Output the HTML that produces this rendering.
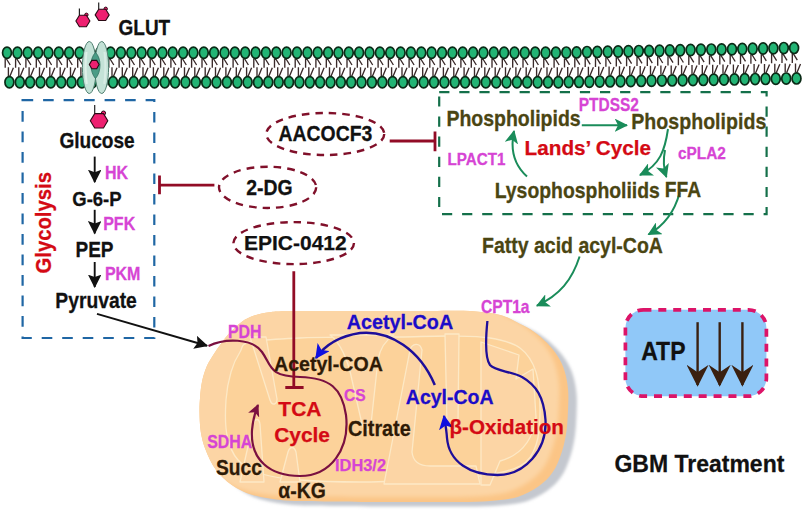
<!DOCTYPE html>
<html><head><meta charset="utf-8"><style>
html,body{margin:0;padding:0;background:#fff;}
body{width:804px;height:517px;overflow:hidden;font-family:"Liberation Sans",sans-serif;}
svg{display:block;}
</style></head><body>
<svg width="804" height="517" viewBox="0 0 804 517">
<defs>
<marker id="ab" viewBox="0 0 12 12" refX="11" refY="6" markerWidth="13.5" markerHeight="13.5" markerUnits="userSpaceOnUse" orient="auto"><path d="M0 0L12 6L0 12L2.2 6Z" fill="#111"/></marker>
<marker id="ag" viewBox="0 0 12 12" refX="11" refY="6" markerWidth="13.5" markerHeight="13.5" markerUnits="userSpaceOnUse" orient="auto"><path d="M0 0L12 6L0 12L3 6Z" fill="#1a8c5a"/></marker>
<marker id="abl" viewBox="0 0 12 12" refX="11" refY="6" markerWidth="14.5" markerHeight="14.5" markerUnits="userSpaceOnUse" orient="auto"><path d="M0 0L12 6L0 12L3 6Z" fill="#1010e0"/></marker>
<marker id="am" viewBox="0 0 12 12" refX="11" refY="6" markerWidth="12" markerHeight="12" markerUnits="userSpaceOnUse" orient="auto"><path d="M0 0L12 6L0 12L3 6Z" fill="#7a1040"/></marker>
<marker id="abr" viewBox="0 0 12 12" refX="11" refY="6" markerWidth="22" markerHeight="22" markerUnits="userSpaceOnUse" orient="auto"><path d="M0 0L12 6L0 12L4 6Z" fill="#3a2010"/></marker>
<filter id="sh" x="-10%" y="-10%" width="120%" height="130%"><feGaussianBlur stdDeviation="1.6"/></filter>
<filter id="bl" x="-10%" y="-10%" width="120%" height="130%"><feGaussianBlur stdDeviation="2"/></filter>
</defs>
<path d="M5.2 58.5V67.7M6.2 58.5L10.2 65.0M15.6 58.5V67.7M16.6 58.5L20.6 65.0M25.9 58.5V67.7M26.9 58.5L30.9 65.0M36.3 58.5V67.7M37.3 58.5L41.3 65.0M46.6 58.5V67.7M47.6 58.5L51.6 65.0M57.0 58.5V67.7M58.0 58.5L62.0 65.0M67.3 58.5V67.7M68.3 58.5L72.3 65.0M77.7 58.5V67.7M78.7 58.5L82.7 65.0M88.1 58.5V67.7M89.1 58.5L93.1 65.0M98.4 58.5V67.7M99.4 58.5L103.4 65.0M108.8 58.5V67.7M109.8 58.5L113.8 65.0M119.1 58.5V67.7M120.1 58.5L124.1 65.0M129.5 58.5V67.7M130.5 58.5L134.5 65.0M139.8 58.5V67.7M140.8 58.5L144.8 65.0M150.2 58.5V67.7M151.2 58.5L155.2 65.0M160.6 58.5V67.7M161.6 58.5L165.6 65.0M170.9 58.5V67.7M171.9 58.5L175.9 65.0M181.3 58.5V67.7M182.3 58.5L186.3 65.0M191.6 58.5V67.7M192.6 58.5L196.6 65.0M202.0 58.5V67.7M203.0 58.5L207.0 65.0M212.3 58.5V67.7M213.3 58.5L217.3 65.0M222.7 58.5V67.7M223.7 58.5L227.7 65.0M233.1 58.5V67.7M234.1 58.5L238.1 65.0M243.4 58.5V67.7M244.4 58.5L248.4 65.0M253.8 58.5V67.7M254.8 58.5L258.8 65.0M264.1 58.5V67.7M265.1 58.5L269.1 65.0M274.5 58.5V67.7M275.5 58.5L279.5 65.0M284.8 58.5V67.7M285.8 58.5L289.8 65.0M295.2 58.5V67.7M296.2 58.5L300.2 65.0M305.6 58.5V67.7M306.6 58.5L310.6 65.0M315.9 58.5V67.7M316.9 58.5L320.9 65.0M326.3 58.5V67.7M327.3 58.5L331.3 65.0M336.6 58.5V67.7M337.6 58.5L341.6 65.0M347.0 58.5V67.7M348.0 58.5L352.0 65.0M357.3 58.5V67.7M358.3 58.5L362.3 65.0M367.7 58.5V67.7M368.7 58.5L372.7 65.0M378.1 58.5V67.7M379.1 58.5L383.1 65.0M388.4 58.5V67.7M389.4 58.5L393.4 65.0M398.8 58.5V67.7M399.8 58.5L403.8 65.0M409.1 58.5V67.7M410.1 58.5L414.1 65.0M419.5 58.5V67.7M420.5 58.5L424.5 65.0M429.8 58.5V67.7M430.8 58.5L434.8 65.0M440.2 58.5V67.7M441.2 58.5L445.2 65.0M450.6 58.5V67.7M451.6 58.5L455.6 65.0M460.9 58.5V67.7M461.9 58.5L465.9 65.0M471.3 58.5V67.7M472.3 58.5L476.3 65.0M481.6 58.5V67.7M482.6 58.5L486.6 65.0M492.0 58.5V67.7M493.0 58.5L497.0 65.0M502.3 58.5V67.7M503.3 58.5L507.3 65.0M512.7 58.5V67.7M513.7 58.5L517.7 65.0M523.0 58.5V67.7M524.0 58.5L528.0 65.0M533.4 58.5V67.7M534.4 58.5L538.4 65.0M543.8 58.5V67.7M544.8 58.5L548.8 65.0M554.1 58.5V67.7M555.1 58.5L559.1 65.0M564.5 58.4V67.6M565.5 58.4L569.5 64.9M574.8 58.2V67.4M575.8 58.2L579.8 64.7M585.2 57.9V67.1M586.2 57.9L590.2 64.4M595.5 57.7V66.9M596.5 57.7L600.5 64.2M605.9 57.5V66.7M606.9 57.5L610.9 64.0M616.3 57.3V66.5M617.3 57.3L621.3 63.8M626.6 57.1V66.3M627.6 57.1L631.6 63.6M637.0 56.9V66.1M638.0 56.9L642.0 63.4M647.3 56.7V65.9M648.3 56.7L652.3 63.2M657.7 56.5V65.7M658.7 56.5L662.7 63.0M668.0 56.2V65.4M669.0 56.2L673.0 62.7M678.4 56.0V65.2M679.4 56.0L683.4 62.5M688.8 55.8V65.0M689.8 55.8L693.8 62.3M699.1 55.6V64.8M700.1 55.6L704.1 62.1M709.5 55.4V64.6M710.5 55.4L714.5 61.9M719.8 55.2V64.4M720.8 55.2L724.8 61.7M730.2 55.0V64.2M731.2 55.0L735.2 61.5M740.5 54.8V64.0M741.5 54.8L745.5 61.3M750.9 54.5V63.7M751.9 54.5L755.9 61.0M761.3 54.3V63.5M762.3 54.3L766.3 60.8M771.6 54.1V63.3M772.6 54.1L776.6 60.6M782.0 53.9V63.1M783.0 53.9L787.0 60.4M792.3 53.7V62.9M793.3 53.7L797.3 60.2M8.4 76.2V67.2M9.9 76.2L13.4 67.7M18.8 76.2V67.2M20.3 76.2L23.8 67.7M29.1 76.2V67.2M30.6 76.2L34.1 67.7M39.5 76.2V67.2M41.0 76.2L44.5 67.7M49.8 76.2V67.2M51.3 76.2L54.8 67.7M60.2 76.2V67.2M61.7 76.2L65.2 67.7M70.5 76.2V67.2M72.0 76.2L75.5 67.7M80.9 76.2V67.2M82.4 76.2L85.9 67.7M91.3 76.2V67.2M92.8 76.2L96.3 67.7M101.6 76.2V67.2M103.1 76.2L106.6 67.7M112.0 76.2V67.2M113.5 76.2L117.0 67.7M122.3 76.2V67.2M123.8 76.2L127.3 67.7M132.7 76.2V67.2M134.2 76.2L137.7 67.7M143.0 76.2V67.2M144.5 76.2L148.0 67.7M153.4 76.2V67.2M154.9 76.2L158.4 67.7M163.8 76.2V67.2M165.3 76.2L168.8 67.7M174.1 76.2V67.2M175.6 76.2L179.1 67.7M184.5 76.2V67.2M186.0 76.2L189.5 67.7M194.8 76.2V67.2M196.3 76.2L199.8 67.7M205.2 76.2V67.2M206.7 76.2L210.2 67.7M215.5 76.2V67.2M217.0 76.2L220.5 67.7M225.9 76.2V67.2M227.4 76.2L230.9 67.7M236.3 76.2V67.2M237.8 76.2L241.3 67.7M246.6 76.2V67.2M248.1 76.2L251.6 67.7M257.0 76.2V67.2M258.5 76.2L262.0 67.7M267.3 76.2V67.2M268.8 76.2L272.3 67.7M277.7 76.2V67.2M279.2 76.2L282.7 67.7M288.0 76.2V67.2M289.5 76.2L293.0 67.7M298.4 76.2V67.2M299.9 76.2L303.4 67.7M308.8 76.2V67.2M310.3 76.2L313.8 67.7M319.1 76.2V67.2M320.6 76.2L324.1 67.7M329.5 76.2V67.2M331.0 76.2L334.5 67.7M339.8 76.2V67.2M341.3 76.2L344.8 67.7M350.2 76.2V67.2M351.7 76.2L355.2 67.7M360.5 76.2V67.2M362.0 76.2L365.5 67.7M370.9 76.2V67.2M372.4 76.2L375.9 67.7M381.3 76.2V67.2M382.8 76.2L386.3 67.7M391.6 76.2V67.2M393.1 76.2L396.6 67.7M402.0 76.2V67.2M403.5 76.2L407.0 67.7M412.3 76.2V67.2M413.8 76.2L417.3 67.7M422.7 76.2V67.2M424.2 76.2L427.7 67.7M433.0 76.2V67.2M434.5 76.2L438.0 67.7M443.4 76.2V67.2M444.9 76.2L448.4 67.7M453.8 76.2V67.2M455.3 76.2L458.8 67.7M464.1 76.2V67.2M465.6 76.2L469.1 67.7M474.5 76.2V67.2M476.0 76.2L479.5 67.7M484.8 76.2V67.2M486.3 76.2L489.8 67.7M495.2 76.2V67.2M496.7 76.2L500.2 67.7M505.5 76.2V67.2M507.0 76.2L510.5 67.7M515.9 76.2V67.2M517.4 76.2L520.9 67.7M526.2 76.2V67.2M527.7 76.2L531.2 67.7M536.6 76.2V67.2M538.1 76.2L541.6 67.7M547.0 76.2V67.2M548.5 76.2L552.0 67.7M557.3 76.2V67.2M558.8 76.2L562.3 67.7M567.7 76.1V67.1M569.2 76.1L572.7 67.6M578.0 75.9V66.9M579.5 75.9L583.0 67.4M588.4 75.7V66.7M589.9 75.7L593.4 67.2M598.7 75.6V66.6M600.2 75.6L603.7 67.1M609.1 75.4V66.4M610.6 75.4L614.1 66.9M619.5 75.2V66.2M621.0 75.2L624.5 66.7M629.8 75.1V66.1M631.3 75.1L634.8 66.6M640.2 74.9V65.9M641.7 74.9L645.2 66.4M650.5 74.7V65.7M652.0 74.7L655.5 66.2M660.9 74.6V65.6M662.4 74.6L665.9 66.1M671.2 74.4V65.4M672.7 74.4L676.2 65.9M681.6 74.2V65.2M683.1 74.2L686.6 65.7M692.0 74.1V65.1M693.5 74.1L697.0 65.6M702.3 73.9V64.9M703.8 73.9L707.3 65.4M712.7 73.7V64.7M714.2 73.7L717.7 65.2M723.0 73.6V64.6M724.5 73.6L728.0 65.1M733.4 73.4V64.4M734.9 73.4L738.4 64.9M743.7 73.2V64.2M745.2 73.2L748.7 64.7M754.1 73.1V64.1M755.6 73.1L759.1 64.6M764.5 72.9V63.9M766.0 72.9L769.5 64.4M774.8 72.7V63.7M776.3 72.7L779.8 64.2M785.2 72.6V63.6M786.7 72.6L790.2 64.1M795.5 72.4V63.4M797.0 72.4L800.5 63.9" stroke="#3a2a2a" stroke-width="1.35" fill="none"/><g fill="#22b474" stroke="#0a2a16" stroke-width="1.7"><ellipse cx="7.0" cy="52.7" rx="4.45" ry="5.6"/><ellipse cx="17.4" cy="52.7" rx="4.45" ry="5.6"/><ellipse cx="27.7" cy="52.7" rx="4.45" ry="5.6"/><ellipse cx="38.1" cy="52.7" rx="4.45" ry="5.6"/><ellipse cx="48.4" cy="52.7" rx="4.45" ry="5.6"/><ellipse cx="58.8" cy="52.7" rx="4.45" ry="5.6"/><ellipse cx="69.1" cy="52.7" rx="4.45" ry="5.6"/><ellipse cx="79.5" cy="52.7" rx="4.45" ry="5.6"/><ellipse cx="89.9" cy="52.7" rx="4.45" ry="5.6"/><ellipse cx="100.2" cy="52.7" rx="4.45" ry="5.6"/><ellipse cx="110.6" cy="52.7" rx="4.45" ry="5.6"/><ellipse cx="120.9" cy="52.7" rx="4.45" ry="5.6"/><ellipse cx="131.3" cy="52.7" rx="4.45" ry="5.6"/><ellipse cx="141.6" cy="52.7" rx="4.45" ry="5.6"/><ellipse cx="152.0" cy="52.7" rx="4.45" ry="5.6"/><ellipse cx="162.4" cy="52.7" rx="4.45" ry="5.6"/><ellipse cx="172.7" cy="52.7" rx="4.45" ry="5.6"/><ellipse cx="183.1" cy="52.7" rx="4.45" ry="5.6"/><ellipse cx="193.4" cy="52.7" rx="4.45" ry="5.6"/><ellipse cx="203.8" cy="52.7" rx="4.45" ry="5.6"/><ellipse cx="214.1" cy="52.7" rx="4.45" ry="5.6"/><ellipse cx="224.5" cy="52.7" rx="4.45" ry="5.6"/><ellipse cx="234.9" cy="52.7" rx="4.45" ry="5.6"/><ellipse cx="245.2" cy="52.7" rx="4.45" ry="5.6"/><ellipse cx="255.6" cy="52.7" rx="4.45" ry="5.6"/><ellipse cx="265.9" cy="52.7" rx="4.45" ry="5.6"/><ellipse cx="276.3" cy="52.7" rx="4.45" ry="5.6"/><ellipse cx="286.6" cy="52.7" rx="4.45" ry="5.6"/><ellipse cx="297.0" cy="52.7" rx="4.45" ry="5.6"/><ellipse cx="307.4" cy="52.7" rx="4.45" ry="5.6"/><ellipse cx="317.7" cy="52.7" rx="4.45" ry="5.6"/><ellipse cx="328.1" cy="52.7" rx="4.45" ry="5.6"/><ellipse cx="338.4" cy="52.7" rx="4.45" ry="5.6"/><ellipse cx="348.8" cy="52.7" rx="4.45" ry="5.6"/><ellipse cx="359.1" cy="52.7" rx="4.45" ry="5.6"/><ellipse cx="369.5" cy="52.7" rx="4.45" ry="5.6"/><ellipse cx="379.9" cy="52.7" rx="4.45" ry="5.6"/><ellipse cx="390.2" cy="52.7" rx="4.45" ry="5.6"/><ellipse cx="400.6" cy="52.7" rx="4.45" ry="5.6"/><ellipse cx="410.9" cy="52.7" rx="4.45" ry="5.6"/><ellipse cx="421.3" cy="52.7" rx="4.45" ry="5.6"/><ellipse cx="431.6" cy="52.7" rx="4.45" ry="5.6"/><ellipse cx="442.0" cy="52.7" rx="4.45" ry="5.6"/><ellipse cx="452.4" cy="52.7" rx="4.45" ry="5.6"/><ellipse cx="462.7" cy="52.7" rx="4.45" ry="5.6"/><ellipse cx="473.1" cy="52.7" rx="4.45" ry="5.6"/><ellipse cx="483.4" cy="52.7" rx="4.45" ry="5.6"/><ellipse cx="493.8" cy="52.7" rx="4.45" ry="5.6"/><ellipse cx="504.1" cy="52.7" rx="4.45" ry="5.6"/><ellipse cx="514.5" cy="52.7" rx="4.45" ry="5.6"/><ellipse cx="524.8" cy="52.7" rx="4.45" ry="5.6"/><ellipse cx="535.2" cy="52.7" rx="4.45" ry="5.6"/><ellipse cx="545.6" cy="52.7" rx="4.45" ry="5.6"/><ellipse cx="555.9" cy="52.7" rx="4.45" ry="5.6"/><ellipse cx="566.3" cy="52.6" rx="4.45" ry="5.6"/><ellipse cx="576.6" cy="52.4" rx="4.45" ry="5.6"/><ellipse cx="587.0" cy="52.1" rx="4.45" ry="5.6"/><ellipse cx="597.3" cy="51.9" rx="4.45" ry="5.6"/><ellipse cx="607.7" cy="51.7" rx="4.45" ry="5.6"/><ellipse cx="618.1" cy="51.5" rx="4.45" ry="5.6"/><ellipse cx="628.4" cy="51.3" rx="4.45" ry="5.6"/><ellipse cx="638.8" cy="51.1" rx="4.45" ry="5.6"/><ellipse cx="649.1" cy="50.9" rx="4.45" ry="5.6"/><ellipse cx="659.5" cy="50.7" rx="4.45" ry="5.6"/><ellipse cx="669.8" cy="50.4" rx="4.45" ry="5.6"/><ellipse cx="680.2" cy="50.2" rx="4.45" ry="5.6"/><ellipse cx="690.6" cy="50.0" rx="4.45" ry="5.6"/><ellipse cx="700.9" cy="49.8" rx="4.45" ry="5.6"/><ellipse cx="711.3" cy="49.6" rx="4.45" ry="5.6"/><ellipse cx="721.6" cy="49.4" rx="4.45" ry="5.6"/><ellipse cx="732.0" cy="49.2" rx="4.45" ry="5.6"/><ellipse cx="742.3" cy="49.0" rx="4.45" ry="5.6"/><ellipse cx="752.7" cy="48.7" rx="4.45" ry="5.6"/><ellipse cx="763.1" cy="48.5" rx="4.45" ry="5.6"/><ellipse cx="773.4" cy="48.3" rx="4.45" ry="5.6"/><ellipse cx="783.8" cy="48.1" rx="4.45" ry="5.6"/><ellipse cx="794.1" cy="47.9" rx="4.45" ry="5.6"/><ellipse cx="9.4" cy="82.2" rx="4.45" ry="5.6"/><ellipse cx="19.8" cy="82.2" rx="4.45" ry="5.6"/><ellipse cx="30.1" cy="82.2" rx="4.45" ry="5.6"/><ellipse cx="40.5" cy="82.2" rx="4.45" ry="5.6"/><ellipse cx="50.8" cy="82.2" rx="4.45" ry="5.6"/><ellipse cx="61.2" cy="82.2" rx="4.45" ry="5.6"/><ellipse cx="71.5" cy="82.2" rx="4.45" ry="5.6"/><ellipse cx="81.9" cy="82.2" rx="4.45" ry="5.6"/><ellipse cx="92.3" cy="82.2" rx="4.45" ry="5.6"/><ellipse cx="102.6" cy="82.2" rx="4.45" ry="5.6"/><ellipse cx="113.0" cy="82.2" rx="4.45" ry="5.6"/><ellipse cx="123.3" cy="82.2" rx="4.45" ry="5.6"/><ellipse cx="133.7" cy="82.2" rx="4.45" ry="5.6"/><ellipse cx="144.0" cy="82.2" rx="4.45" ry="5.6"/><ellipse cx="154.4" cy="82.2" rx="4.45" ry="5.6"/><ellipse cx="164.8" cy="82.2" rx="4.45" ry="5.6"/><ellipse cx="175.1" cy="82.2" rx="4.45" ry="5.6"/><ellipse cx="185.5" cy="82.2" rx="4.45" ry="5.6"/><ellipse cx="195.8" cy="82.2" rx="4.45" ry="5.6"/><ellipse cx="206.2" cy="82.2" rx="4.45" ry="5.6"/><ellipse cx="216.5" cy="82.2" rx="4.45" ry="5.6"/><ellipse cx="226.9" cy="82.2" rx="4.45" ry="5.6"/><ellipse cx="237.3" cy="82.2" rx="4.45" ry="5.6"/><ellipse cx="247.6" cy="82.2" rx="4.45" ry="5.6"/><ellipse cx="258.0" cy="82.2" rx="4.45" ry="5.6"/><ellipse cx="268.3" cy="82.2" rx="4.45" ry="5.6"/><ellipse cx="278.7" cy="82.2" rx="4.45" ry="5.6"/><ellipse cx="289.0" cy="82.2" rx="4.45" ry="5.6"/><ellipse cx="299.4" cy="82.2" rx="4.45" ry="5.6"/><ellipse cx="309.8" cy="82.2" rx="4.45" ry="5.6"/><ellipse cx="320.1" cy="82.2" rx="4.45" ry="5.6"/><ellipse cx="330.5" cy="82.2" rx="4.45" ry="5.6"/><ellipse cx="340.8" cy="82.2" rx="4.45" ry="5.6"/><ellipse cx="351.2" cy="82.2" rx="4.45" ry="5.6"/><ellipse cx="361.5" cy="82.2" rx="4.45" ry="5.6"/><ellipse cx="371.9" cy="82.2" rx="4.45" ry="5.6"/><ellipse cx="382.3" cy="82.2" rx="4.45" ry="5.6"/><ellipse cx="392.6" cy="82.2" rx="4.45" ry="5.6"/><ellipse cx="403.0" cy="82.2" rx="4.45" ry="5.6"/><ellipse cx="413.3" cy="82.2" rx="4.45" ry="5.6"/><ellipse cx="423.7" cy="82.2" rx="4.45" ry="5.6"/><ellipse cx="434.0" cy="82.2" rx="4.45" ry="5.6"/><ellipse cx="444.4" cy="82.2" rx="4.45" ry="5.6"/><ellipse cx="454.8" cy="82.2" rx="4.45" ry="5.6"/><ellipse cx="465.1" cy="82.2" rx="4.45" ry="5.6"/><ellipse cx="475.5" cy="82.2" rx="4.45" ry="5.6"/><ellipse cx="485.8" cy="82.2" rx="4.45" ry="5.6"/><ellipse cx="496.2" cy="82.2" rx="4.45" ry="5.6"/><ellipse cx="506.5" cy="82.2" rx="4.45" ry="5.6"/><ellipse cx="516.9" cy="82.2" rx="4.45" ry="5.6"/><ellipse cx="527.2" cy="82.2" rx="4.45" ry="5.6"/><ellipse cx="537.6" cy="82.2" rx="4.45" ry="5.6"/><ellipse cx="548.0" cy="82.2" rx="4.45" ry="5.6"/><ellipse cx="558.3" cy="82.2" rx="4.45" ry="5.6"/><ellipse cx="568.7" cy="82.1" rx="4.45" ry="5.6"/><ellipse cx="579.0" cy="81.9" rx="4.45" ry="5.6"/><ellipse cx="589.4" cy="81.7" rx="4.45" ry="5.6"/><ellipse cx="599.7" cy="81.6" rx="4.45" ry="5.6"/><ellipse cx="610.1" cy="81.4" rx="4.45" ry="5.6"/><ellipse cx="620.5" cy="81.2" rx="4.45" ry="5.6"/><ellipse cx="630.8" cy="81.1" rx="4.45" ry="5.6"/><ellipse cx="641.2" cy="80.9" rx="4.45" ry="5.6"/><ellipse cx="651.5" cy="80.7" rx="4.45" ry="5.6"/><ellipse cx="661.9" cy="80.6" rx="4.45" ry="5.6"/><ellipse cx="672.2" cy="80.4" rx="4.45" ry="5.6"/><ellipse cx="682.6" cy="80.2" rx="4.45" ry="5.6"/><ellipse cx="693.0" cy="80.1" rx="4.45" ry="5.6"/><ellipse cx="703.3" cy="79.9" rx="4.45" ry="5.6"/><ellipse cx="713.7" cy="79.7" rx="4.45" ry="5.6"/><ellipse cx="724.0" cy="79.6" rx="4.45" ry="5.6"/><ellipse cx="734.4" cy="79.4" rx="4.45" ry="5.6"/><ellipse cx="744.7" cy="79.2" rx="4.45" ry="5.6"/><ellipse cx="755.1" cy="79.1" rx="4.45" ry="5.6"/><ellipse cx="765.5" cy="78.9" rx="4.45" ry="5.6"/><ellipse cx="775.8" cy="78.7" rx="4.45" ry="5.6"/><ellipse cx="786.2" cy="78.6" rx="4.45" ry="5.6"/><ellipse cx="796.5" cy="78.4" rx="4.45" ry="5.6"/></g>
<g>
<ellipse cx="89.3" cy="67.5" rx="6.9" ry="26" fill="#c4e2d7" stroke="#4f7f70" stroke-width="1"/>
<ellipse cx="101.7" cy="67.5" rx="6.9" ry="26" fill="#c4e2d7" stroke="#4f7f70" stroke-width="1"/>
<path d="M86.5 52 C85.5 60 85.5 75 86.8 84" stroke="#e6f4ee" stroke-width="2" fill="none" opacity="0.8"/>
<path d="M104.5 52 C105.5 60 105.5 75 104.2 84" stroke="#e6f4ee" stroke-width="2" fill="none" opacity="0.6"/>
<path d="M95.5 52.5 C101.5 58 101.5 72 95.5 78.5 C89.5 72 89.5 58 95.5 52.5Z" fill="#4a9c86" stroke="#2f6e5e" stroke-width="0.8"/>
</g>
<polygon points="89.3,64.6 91.8,60.4 96.7,60.4 99.1,64.6 96.7,68.8 91.8,68.8" fill="#ee2070" stroke="#2a0a14" stroke-width="1.1"/>
<line x1="79.4" y1="15.2" x2="79.4" y2="8.4" stroke="#222" stroke-width="1.2"/><circle cx="86.4" cy="14.8" r="1.7" fill="#ee2070" stroke="#2a0a14" stroke-width="1"/><polygon points="75.9,21.0 79.4,15.2 86.4,15.2 89.9,21.0 86.4,26.8 79.4,26.8" fill="#ee2070" stroke="#2a0a14" stroke-width="1.1"/>
<line x1="98.7" y1="9.3" x2="98.7" y2="2.6" stroke="#222" stroke-width="1.2"/><circle cx="105.7" cy="8.8" r="1.7" fill="#ee2070" stroke="#2a0a14" stroke-width="1"/><polygon points="95.2,14.9 98.7,9.3 105.7,9.3 109.2,14.9 105.7,20.5 98.7,20.5" fill="#ee2070" stroke="#2a0a14" stroke-width="1.1"/>
<line x1="94.7" y1="113.6" x2="94.7" y2="105.1" stroke="#222" stroke-width="1.2"/><circle cx="103.5" cy="113.1" r="2.1" fill="#ee2070" stroke="#2a0a14" stroke-width="1"/><polygon points="90.3,120.8 94.7,113.6 103.5,113.6 107.8,120.8 103.5,128.0 94.7,128.0" fill="#ee2070" stroke="#2a0a14" stroke-width="1.1"/>
<rect x="22.6" y="100.2" width="131.7" height="237.8" fill="none" stroke="#1f66a4" stroke-width="2.2" stroke-dasharray="10.6 9.9"/>
<rect x="439.2" y="92.2" width="327.4" height="122" fill="none" stroke="#14704a" stroke-width="2.2" stroke-dasharray="10.2 9.9"/>
<line x1="94.7" y1="156.6" x2="94.7" y2="182.1" stroke="#111" stroke-width="1.9" marker-end="url(#ab)"/>
<line x1="94.7" y1="209.8" x2="94.7" y2="233.4" stroke="#111" stroke-width="1.9" marker-end="url(#ab)"/>
<line x1="94.7" y1="262" x2="94.7" y2="287" stroke="#111" stroke-width="1.9" marker-end="url(#ab)"/>
<line x1="97" y1="313.9" x2="207" y2="345.8" stroke="#111" stroke-width="2" marker-end="url(#ab)"/>
<path d="M214.4 185.2H159.5M159.5 175.5V194.2" stroke="#920c26" stroke-width="2.8" fill="none"/>
<path d="M389.7 141H435M435 131.6V151.2" stroke="#920c26" stroke-width="2.8" fill="none"/>
<ellipse cx="325.25" cy="134" rx="59" ry="21" fill="none" stroke="#80102a" stroke-width="2.4" stroke-dasharray="7.5 6"/>
<ellipse cx="267.6" cy="187.35" rx="48.6" ry="20.6" fill="none" stroke="#80102a" stroke-width="2.4" stroke-dasharray="7.5 6"/>
<ellipse cx="293.7" cy="243.1" rx="60.3" ry="21" fill="none" stroke="#80102a" stroke-width="2.4" stroke-dasharray="7.5 6"/>
<clipPath id="mc"><path d="M285.0 311.2C295.1 311.0 314.2 311.0 330.0 311.0C345.8 311.0 363.3 311.0 380.0 311.0C396.7 311.0 415.0 311.0 430.0 311.0C445.0 311.0 458.3 310.4 470.0 311.1C481.7 311.8 491.9 313.0 500.2 315.1C508.5 317.2 514.5 321.3 520.0 324.0C525.5 326.7 529.0 328.3 533.5 331.5C538.0 334.7 543.0 338.8 547.1 343.0C551.2 347.2 555.0 351.9 557.9 356.6C560.8 361.3 563.0 365.8 564.7 371.4C566.4 377.0 567.6 383.6 568.1 390.0C568.6 396.4 568.3 403.2 568.0 410.0C567.7 416.8 567.5 423.8 566.5 430.7C565.5 437.6 564.3 444.5 562.0 451.4C559.7 458.3 556.8 466.2 552.8 472.1C548.8 478.0 544.2 482.5 538.3 486.6C532.4 490.7 525.5 494.5 517.6 496.9C509.7 499.3 500.3 500.1 490.7 501.0C481.1 501.9 471.8 501.8 460.0 502.0C448.2 502.2 433.3 502.0 420.0 502.0C406.7 502.0 395.0 502.1 380.0 502.0C365.0 501.9 345.8 501.8 330.0 501.5C314.2 501.2 297.9 501.6 285.0 500.5C272.1 499.4 261.6 497.6 252.7 495.0C243.8 492.4 237.9 489.2 231.8 485.0C225.7 480.8 220.3 475.8 216.0 470.0C211.7 464.2 208.2 456.3 205.7 450.0C203.2 443.7 201.8 438.3 200.8 432.0C199.8 425.7 199.6 417.8 199.5 412.0C199.4 406.2 199.7 402.2 200.1 397.0C200.5 391.8 201.1 385.7 202.2 380.7C203.3 375.7 204.9 370.9 206.5 367.0C208.1 363.1 209.9 360.4 212.0 357.0C214.1 353.6 216.2 350.4 219.0 346.5C221.8 342.6 225.2 337.6 229.0 333.5C232.8 329.4 237.4 324.9 241.6 321.9C245.8 318.9 249.5 317.2 254.2 315.6C258.9 314.0 264.5 312.9 269.6 312.2C274.7 311.5 274.9 311.4 285.0 311.2Z"/></clipPath>
<path d="M285.0 311.2C295.1 311.0 314.2 311.0 330.0 311.0C345.8 311.0 363.3 311.0 380.0 311.0C396.7 311.0 415.0 311.0 430.0 311.0C445.0 311.0 458.3 310.4 470.0 311.1C481.7 311.8 491.9 313.0 500.2 315.1C508.5 317.2 514.5 321.3 520.0 324.0C525.5 326.7 529.0 328.3 533.5 331.5C538.0 334.7 543.0 338.8 547.1 343.0C551.2 347.2 555.0 351.9 557.9 356.6C560.8 361.3 563.0 365.8 564.7 371.4C566.4 377.0 567.6 383.6 568.1 390.0C568.6 396.4 568.3 403.2 568.0 410.0C567.7 416.8 567.5 423.8 566.5 430.7C565.5 437.6 564.3 444.5 562.0 451.4C559.7 458.3 556.8 466.2 552.8 472.1C548.8 478.0 544.2 482.5 538.3 486.6C532.4 490.7 525.5 494.5 517.6 496.9C509.7 499.3 500.3 500.1 490.7 501.0C481.1 501.9 471.8 501.8 460.0 502.0C448.2 502.2 433.3 502.0 420.0 502.0C406.7 502.0 395.0 502.1 380.0 502.0C365.0 501.9 345.8 501.8 330.0 501.5C314.2 501.2 297.9 501.6 285.0 500.5C272.1 499.4 261.6 497.6 252.7 495.0C243.8 492.4 237.9 489.2 231.8 485.0C225.7 480.8 220.3 475.8 216.0 470.0C211.7 464.2 208.2 456.3 205.7 450.0C203.2 443.7 201.8 438.3 200.8 432.0C199.8 425.7 199.6 417.8 199.5 412.0C199.4 406.2 199.7 402.2 200.1 397.0C200.5 391.8 201.1 385.7 202.2 380.7C203.3 375.7 204.9 370.9 206.5 367.0C208.1 363.1 209.9 360.4 212.0 357.0C214.1 353.6 216.2 350.4 219.0 346.5C221.8 342.6 225.2 337.6 229.0 333.5C232.8 329.4 237.4 324.9 241.6 321.9C245.8 318.9 249.5 317.2 254.2 315.6C258.9 314.0 264.5 312.9 269.6 312.2C274.7 311.5 274.9 311.4 285.0 311.2Z" transform="translate(8.5 4.5)" fill="#c4c8cf" filter="url(#sh)"/>
<path d="M285.0 311.2C295.1 311.0 314.2 311.0 330.0 311.0C345.8 311.0 363.3 311.0 380.0 311.0C396.7 311.0 415.0 311.0 430.0 311.0C445.0 311.0 458.3 310.4 470.0 311.1C481.7 311.8 491.9 313.0 500.2 315.1C508.5 317.2 514.5 321.3 520.0 324.0C525.5 326.7 529.0 328.3 533.5 331.5C538.0 334.7 543.0 338.8 547.1 343.0C551.2 347.2 555.0 351.9 557.9 356.6C560.8 361.3 563.0 365.8 564.7 371.4C566.4 377.0 567.6 383.6 568.1 390.0C568.6 396.4 568.3 403.2 568.0 410.0C567.7 416.8 567.5 423.8 566.5 430.7C565.5 437.6 564.3 444.5 562.0 451.4C559.7 458.3 556.8 466.2 552.8 472.1C548.8 478.0 544.2 482.5 538.3 486.6C532.4 490.7 525.5 494.5 517.6 496.9C509.7 499.3 500.3 500.1 490.7 501.0C481.1 501.9 471.8 501.8 460.0 502.0C448.2 502.2 433.3 502.0 420.0 502.0C406.7 502.0 395.0 502.1 380.0 502.0C365.0 501.9 345.8 501.8 330.0 501.5C314.2 501.2 297.9 501.6 285.0 500.5C272.1 499.4 261.6 497.6 252.7 495.0C243.8 492.4 237.9 489.2 231.8 485.0C225.7 480.8 220.3 475.8 216.0 470.0C211.7 464.2 208.2 456.3 205.7 450.0C203.2 443.7 201.8 438.3 200.8 432.0C199.8 425.7 199.6 417.8 199.5 412.0C199.4 406.2 199.7 402.2 200.1 397.0C200.5 391.8 201.1 385.7 202.2 380.7C203.3 375.7 204.9 370.9 206.5 367.0C208.1 363.1 209.9 360.4 212.0 357.0C214.1 353.6 216.2 350.4 219.0 346.5C221.8 342.6 225.2 337.6 229.0 333.5C232.8 329.4 237.4 324.9 241.6 321.9C245.8 318.9 249.5 317.2 254.2 315.6C258.9 314.0 264.5 312.9 269.6 312.2C274.7 311.5 274.9 311.4 285.0 311.2Z" fill="#fbc586"/>
<g clip-path="url(#mc)"><path d="M285.0 311.2C295.1 311.0 314.2 311.0 330.0 311.0C345.8 311.0 363.3 311.0 380.0 311.0C396.7 311.0 415.0 311.0 430.0 311.0C445.0 311.0 458.3 310.4 470.0 311.1C481.7 311.8 491.9 313.0 500.2 315.1C508.5 317.2 514.5 321.3 520.0 324.0C525.5 326.7 529.0 328.3 533.5 331.5C538.0 334.7 543.0 338.8 547.1 343.0C551.2 347.2 555.0 351.9 557.9 356.6C560.8 361.3 563.0 365.8 564.7 371.4C566.4 377.0 567.6 383.6 568.1 390.0C568.6 396.4 568.3 403.2 568.0 410.0C567.7 416.8 567.5 423.8 566.5 430.7C565.5 437.6 564.3 444.5 562.0 451.4C559.7 458.3 556.8 466.2 552.8 472.1C548.8 478.0 544.2 482.5 538.3 486.6C532.4 490.7 525.5 494.5 517.6 496.9C509.7 499.3 500.3 500.1 490.7 501.0C481.1 501.9 471.8 501.8 460.0 502.0C448.2 502.2 433.3 502.0 420.0 502.0C406.7 502.0 395.0 502.1 380.0 502.0C365.0 501.9 345.8 501.8 330.0 501.5C314.2 501.2 297.9 501.6 285.0 500.5C272.1 499.4 261.6 497.6 252.7 495.0C243.8 492.4 237.9 489.2 231.8 485.0C225.7 480.8 220.3 475.8 216.0 470.0C211.7 464.2 208.2 456.3 205.7 450.0C203.2 443.7 201.8 438.3 200.8 432.0C199.8 425.7 199.6 417.8 199.5 412.0C199.4 406.2 199.7 402.2 200.1 397.0C200.5 391.8 201.1 385.7 202.2 380.7C203.3 375.7 204.9 370.9 206.5 367.0C208.1 363.1 209.9 360.4 212.0 357.0C214.1 353.6 216.2 350.4 219.0 346.5C221.8 342.6 225.2 337.6 229.0 333.5C232.8 329.4 237.4 324.9 241.6 321.9C245.8 318.9 249.5 317.2 254.2 315.6C258.9 314.0 264.5 312.9 269.6 312.2C274.7 311.5 274.9 311.4 285.0 311.2Z" transform="translate(-9 -5)" fill="#fcd5a5" filter="url(#bl)"/></g>
<path d="M250.0 342.0C260.0 339.7 283.3 338.8 300.0 338.0C316.7 337.2 333.3 337.2 350.0 337.0C366.7 336.8 383.3 337.2 400.0 337.0C416.7 336.8 435.0 335.8 450.0 336.0C465.0 336.2 478.3 336.0 490.0 338.0C501.7 340.0 512.3 342.3 520.0 348.0C527.7 353.7 532.7 361.7 536.0 372.0C539.3 382.3 540.0 397.8 540.0 410.0C540.0 422.2 539.3 435.7 536.0 445.0C532.7 454.3 529.3 460.8 520.0 466.0C510.7 471.2 496.7 473.7 480.0 476.0C463.3 478.3 440.0 479.0 420.0 480.0C400.0 481.0 380.0 482.0 360.0 482.0C340.0 482.0 316.3 481.3 300.0 480.0C283.7 478.7 272.3 477.3 262.0 474.0C251.7 470.7 243.8 466.5 238.0 460.0C232.2 453.5 229.0 445.0 227.0 435.0C225.0 425.0 225.3 410.5 226.0 400.0C226.7 389.5 228.7 380.0 231.0 372.0C233.3 364.0 236.8 357.0 240.0 352.0C243.2 347.0 240.0 344.3 250.0 342.0Z" fill="#fcd29a" stroke="#fde9c6" stroke-width="1.3"/>
<g fill="#fcd5a5" stroke="#fde9c6" stroke-width="1.3" stroke-linejoin="round">
<path d="M250 337 L270 400 C272 406 277 405 277 399 L266 337Z"/>
<path d="M240 482 L253 424 C255 418 259 418 260 424 L264 482Z"/>
<path d="M280 482 L288 452 C290 446 294 446 296 452 L300 482Z"/>
<path d="M330 335 C340 342 348 360 352 380 L362 424 C364 432 370 432 371 424 L378 360 C380 348 386 340 394 335Z"/>
<path d="M384 484 L410 350 C412 343 420 342 422 350 L412 452 C413 462 420 466 430 466 L476 466 L480 484Z"/>
<path d="M445 334 L447 424 C449 432 456 432 458 424 L459 334Z"/>
<path d="M481 485 L481 342 L519 355 L516 379 L533 369 L536 417 C533 440 522 455 500 461 L490 485Z"/>
</g>
<path d="M208.5 346 C225 338 252 338 262 352 C272 366 268 376 300 377 C330 378 342 388 346 415 C350 450 330 476 300 476 C270 476 250 460 252 430 C253 420 255 412 258 405" fill="none" stroke="#7a1040" stroke-width="2.2" marker-end="url(#am)"/>
<path d="M293.8 271.2V387.5M285.3 387.5H303.6" stroke="#920c26" stroke-width="2.8" fill="none"/>
<path d="M434.8 385 C420 350 390 330 360 333 C340 336 325 345 316 358" fill="none" stroke="#1e0e9a" stroke-width="2.5" marker-end="url(#abl)"/>
<path d="M487.4 321 C485.5 340 485 358 490 365 C495 371 510 371 522 377 C536 385 544 397 545.5 420 C547 450 525 475 497.5 475 C470 475 449 462 447 438 C446.5 430 445 422 444 416" fill="none" stroke="#1e0e9a" stroke-width="2.3" marker-end="url(#abl)"/>
<line x1="581.8" y1="125.3" x2="627" y2="125.3" stroke="#1a8c5a" stroke-width="2" marker-end="url(#ag)"/>
<path d="M527 176.6 C514 165 510 150 514 131" fill="none" stroke="#1a8c5a" stroke-width="2" marker-end="url(#ag)"/>
<path d="M668 129 C665 150 660 165 640 175" fill="none" stroke="#1a8c5a" stroke-width="2" marker-end="url(#ag)"/>
<path d="M665 150 C663 160 664 170 666.4 177" fill="none" stroke="#1a8c5a" stroke-width="2" marker-end="url(#ag)"/>
<path d="M679.6 193 C675 210 665 225 648.5 234.5" fill="none" stroke="#1a8c5a" stroke-width="2" marker-end="url(#ag)"/>
<path d="M579.6 256.5 C572 280 560 295 536.9 305.7" fill="none" stroke="#1a8c5a" stroke-width="2" marker-end="url(#ag)"/>
<rect x="625.4" y="309.8" width="141" height="86.4" rx="18" fill="#90c8f8" stroke="#dc1468" stroke-width="3.7" stroke-dasharray="8 6.9"/>
<line x1="697.6" y1="322.2" x2="697.6" y2="385" stroke="#3a2010" stroke-width="2.4" marker-end="url(#abr)"/>
<line x1="719.7" y1="322.2" x2="719.7" y2="385" stroke="#3a2010" stroke-width="2.4" marker-end="url(#abr)"/>
<line x1="742.4" y1="322.2" x2="742.4" y2="385" stroke="#3a2010" stroke-width="2.4" marker-end="url(#abr)"/>
<g font-family="Liberation Sans, sans-serif" font-weight="bold" stroke-width="0.25" style="paint-order:stroke"><text transform="translate(118.5 34.7) scale(1 1.13)" font-size="19" fill="#111" stroke="#111" >GLUT</text><text transform="translate(59.4 148.3) scale(1 1.13)" font-size="19.1" fill="#111" stroke="#111" >Glucose</text><text transform="translate(104.9 178.5) scale(1 1.13)" font-size="16.0" fill="#d644d4" stroke="#d644d4" >HK</text><text transform="translate(72.3 205.5) scale(1 1.13)" font-size="18.5" fill="#111" stroke="#111" >G-6-P</text><text transform="translate(103.2 230) scale(1 1.13)" font-size="16.0" fill="#d644d4" stroke="#d644d4" >PFK</text><text transform="translate(75.5 256.8) scale(1 1.13)" font-size="19" fill="#111" stroke="#111" >PEP</text><text transform="translate(104.9 280.2) scale(1 1.13)" font-size="16.0" fill="#d644d4" stroke="#d644d4" >PKM</text><text transform="translate(55.3 308) scale(1 1.13)" font-size="19.3" fill="#111" stroke="#111" >Pyruvate</text><text transform="translate(51 273.5) rotate(-90) scale(1 1.13)" font-size="20.3" fill="#d40a14" stroke="#d40a14">Glycolysis</text><text transform="translate(278.6 141) scale(1 1.13)" font-size="19.4" fill="#111" stroke="#111" >AACOCF3</text><text transform="translate(246.3 195.2) scale(1 1.13)" font-size="19.4" fill="#111" stroke="#111" >2-DG</text><text transform="translate(244 249.8) scale(1 1.0)" font-size="21" fill="#111" stroke="#111" >EPIC-0412</text><text transform="translate(446.4 126) scale(1 1.13)" font-size="19.5" fill="#4a4512" stroke="#4a4512" >Phospholipids</text><text transform="translate(578.8 110.6) scale(1 1.13)" font-size="15.45" fill="#d644d4" stroke="#d644d4" >PTDSS2</text><text transform="translate(631.3 128.6) scale(1 1.13)" font-size="19.6" fill="#4a4512" stroke="#4a4512" >Phospholipids</text><text transform="translate(524.6 154.9) scale(1 1.0)" font-size="20.7" fill="#d40a14" stroke="#d40a14" >Lands’ Cycle</text><text transform="translate(447.5 165.1) scale(1 1.13)" font-size="15.2" fill="#d644d4" stroke="#d644d4" >LPACT1</text><text transform="translate(678 158.8) scale(1 1.13)" font-size="15.4" fill="#d644d4" stroke="#d644d4" >cPLA2</text><text transform="translate(494.7 197.5) scale(1 1.13)" font-size="19.4" fill="#4a4512" stroke="#4a4512" >Lysophospholiids</text><text transform="translate(664.8 197) scale(1 1.13)" font-size="19.2" fill="#4a4512" stroke="#4a4512" >FFA</text><text transform="translate(482 252.5) scale(1 1.13)" font-size="19.5" fill="#4a4512" stroke="#4a4512" >Fatty acid acyl-CoA</text><text transform="translate(481 313.3) scale(1 1.13)" font-size="15.6" fill="#d644d4" stroke="#d644d4" >CPT1a</text><text transform="translate(641.2 360) scale(1 1.13)" font-size="23" fill="#111" stroke="#111" >ATP</text><text transform="translate(614.4 472.4) scale(1 1.05)" font-size="23" fill="#111" stroke="#111" >GBM Treatment</text><text transform="translate(227.9 337.9) scale(1 1.13)" font-size="15.9" fill="#d644d4" stroke="#d644d4" >PDH</text><text transform="translate(274 370.7) scale(1 1.06)" font-size="19.6" fill="#2e1a06" stroke="#2e1a06" >Acetyl-COA</text><text transform="translate(346.8 329.2) scale(1 1.07)" font-size="19.75" fill="#1c0cc8" stroke="#1c0cc8" >Acetyl-CoA</text><text transform="translate(344 401.3) scale(1 1.0)" font-size="15.6" fill="#d644d4" stroke="#d644d4" >CS</text><text transform="translate(278.3 416.3) scale(1 1.0)" font-size="21" fill="#d40a14" stroke="#d40a14" >TCA</text><text transform="translate(274.2 441.5) scale(1 1.0)" font-size="20.9" fill="#d40a14" stroke="#d40a14" >Cycle</text><text transform="translate(348 435.7) scale(1 1.07)" font-size="19.8" fill="#2e1a06" stroke="#2e1a06" >Citrate</text><text transform="translate(207.2 447.7) scale(1 1.13)" font-size="15.9" fill="#d644d4" stroke="#d644d4" >SDHA</text><text transform="translate(216 474.9) scale(1 1.13)" font-size="19.2" fill="#2e1a06" stroke="#2e1a06" >Succ</text><text transform="translate(278.3 497.6) scale(1 1.13)" font-size="19.4" fill="#2e1a06" stroke="#2e1a06" >α-KG</text><text transform="translate(335 470.8) scale(1 1.0)" font-size="16.4" fill="#d644d4" stroke="#d644d4" >IDH3/2</text><text transform="translate(405.8 404.2) scale(1 1.05)" font-size="19.5" fill="#1c0cc8" stroke="#1c0cc8" >Acyl-CoA</text><text transform="translate(449.5 433.9) scale(1 1.0)" font-size="20.6" fill="#d40a14" stroke="#d40a14" >β-Oxidation</text></g>
</svg>
</body></html>
